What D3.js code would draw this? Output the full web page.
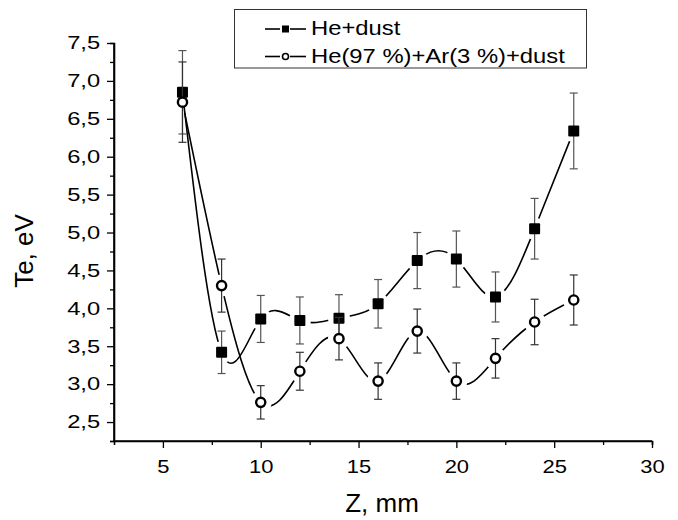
<!DOCTYPE html>
<html lang="en">
<head>
<meta charset="utf-8">
<title>Te vs Z</title>
<script src="https://d3js.org/d3.v7.min.js"></script>
<style>
  body { margin: 0; background: #fff; }
  text { font-family: "Liberation Sans", Arial, sans-serif; fill: #000; }
</style>
</head>
<body>
<script type="text/javascript">
var w = 678;
var h = 520;

// data
var zValues = [6, 8, 10, 12, 14, 16, 18, 20, 22, 24, 26];
var heDust = [6.85, 3.42, 3.86, 3.84, 3.87, 4.06, 4.63, 4.65, 4.15, 5.05, 6.34];
var heDustErr = [0.55, 0.28, 0.31, 0.31, 0.31, 0.32, 0.37, 0.37, 0.33, 0.40, 0.50];
var heArDust = [6.72, 4.30, 2.76, 3.17, 3.60, 3.04, 3.70, 3.04, 3.34, 3.82, 4.11];
var heArDustErr = [0.53, 0.35, 0.22, 0.25, 0.28, 0.24, 0.29, 0.24, 0.26, 0.30, 0.33];
var xTicks = [5, 10, 15, 20, 25, 30];
var yTicks = [2.5, 3.0, 3.5, 4.0, 4.5, 5.0, 5.5, 6.0, 6.5, 7.0, 7.5];
var seriesNames = ["He+dust", "He(97 %)+Ar(3 %)+dust"];

var svg = d3.select("body").append("svg").attr("width", w).attr("height", h);

var x = d3.scaleLinear().domain([2.5, 30]).range([114, 652]);
var y = d3.scaleLinear().domain([2.25, 7.5]).range([441, 43]);

var fmt = function (d) { return d3.format(".1f")(d).replace(".", ","); };

// minor ticks
var xMinor = d3.range(7.5, 30, 5);
var yMinor = d3.range(2.25, 7.5, 0.5);

var gx = svg.append("g").attr("transform", "translate(0,441)");
gx.call(d3.axisBottom(x).tickValues(xTicks).tickSize(7).tickPadding(12).tickFormat(d3.format("d")));
gx.append("g").call(d3.axisBottom(x).tickValues(xMinor).tickSize(4).tickFormat(""));

var gy = svg.append("g").attr("transform", "translate(114,0)");
gy.call(d3.axisLeft(y).tickValues(yTicks).tickSize(7).tickPadding(6).tickFormat(fmt));
gy.append("g").call(d3.axisLeft(y).tickValues(yMinor).tickSize(4).tickFormat(""));

svg.selectAll(".domain").attr("stroke", "#000").attr("stroke-width", 1.6);
svg.selectAll(".tick line").attr("stroke", "#000").attr("stroke-width", 1.3);
svg.selectAll(".tick text").style("font-size", "18px").style("font-family", "Liberation Sans, Arial, sans-serif");
// the tick labels in the picture are set wide
gx.selectAll(".tick text").attr("transform", "scale(1.22,1)");
gy.selectAll(".tick text").attr("x", -10.5).attr("transform", "scale(1.32,1)");
gx.select("g").select(".domain").remove();
gy.select("g").select(".domain").remove();
gx.select(".domain").attr("d", "M" + x(2.5) + ",0H" + x(30));
gy.select(".domain").attr("d", "M0," + y(2.25) + "V" + y(7.5));

// axis titles
svg.append("text").attr("x", 382).attr("y", 512).attr("text-anchor", "middle")
    .style("font-size", "26px").text("Z, mm");
svg.append("text").attr("transform", "translate(33,251) rotate(-90)").attr("text-anchor", "middle")
    .style("font-size", "26px").text("Te, eV");

var series = [
    { vals: heDust, err: heDustErr, sym: "square", ecol: "#555" },
    { vals: heArDust, err: heArDustErr, sym: "circle", ecol: "#333" }
];

var line = d3.line()
    .x(function (d) { return x(d[0]); })
    .y(function (d) { return y(d[1]); })
    .curve(d3.curveNatural);

var defs = svg.append("defs");

series.forEach(function (s, si) {
    var pts = zValues.map(function (z, i) { return [z, s.vals[i], s.err[i]]; });

    // mask to leave gaps round the markers
    var m = defs.append("mask").attr("id", "gap" + si).attr("maskUnits", "userSpaceOnUse")
        .attr("x", 0).attr("y", 0).attr("width", w).attr("height", h);
    m.append("rect").attr("width", w).attr("height", h).attr("fill", "#fff");
    m.selectAll("circle").data(pts).enter().append("circle")
        .attr("cx", function (d) { return x(d[0]); })
        .attr("cy", function (d) { return y(d[1]); })
        .attr("r", 11).attr("fill", "#000");

    svg.append("path").datum(pts).attr("d", line)
        .attr("fill", "none").attr("stroke", "#000").attr("stroke-width", 1.6)
        .attr("mask", "url(#gap" + si + ")");

    // error bars
    var eb = svg.append("g").attr("stroke", s.ecol).attr("stroke-width", 1.2);
    pts.forEach(function (d) {
        var cx = x(d[0]), top = y(d[1] + d[2]), bot = y(d[1] - d[2]);
        eb.append("line").attr("x1", cx).attr("x2", cx).attr("y1", top).attr("y2", bot);
        eb.append("line").attr("x1", cx - 4).attr("x2", cx + 4).attr("y1", top).attr("y2", top);
        eb.append("line").attr("x1", cx - 4).attr("x2", cx + 4).attr("y1", bot).attr("y2", bot);
    });

    // markers
    if (s.sym === "square") {
        svg.append("g").selectAll("rect").data(pts).enter().append("rect")
            .attr("x", function (d) { return x(d[0]) - 5.5; })
            .attr("y", function (d) { return y(d[1]) - 5.5; })
            .attr("width", 11).attr("height", 11).attr("rx", 1).attr("fill", "#000");
    } else {
        svg.append("g").selectAll("circle").data(pts).enter().append("circle")
            .attr("cx", function (d) { return x(d[0]); })
            .attr("cy", function (d) { return y(d[1]); })
            .attr("r", 4.6).attr("fill", "#fff").attr("stroke", "#000").attr("stroke-width", 2.4);
    }
});

// legend
var lg = svg.append("g");
lg.append("rect").attr("x", 234.5).attr("y", 9.5).attr("width", 352).attr("height", 58.5)
    .attr("fill", "#fff").attr("stroke", "#333").attr("stroke-width", 1);
seriesNames.forEach(function (name, i) {
    var cy = 29 + i * 27.5;
    lg.append("line").attr("x1", 265).attr("x2", 280).attr("y1", cy).attr("y2", cy)
        .attr("stroke", "#000").attr("stroke-width", 1.6);
    lg.append("line").attr("x1", 290).attr("x2", 306).attr("y1", cy).attr("y2", cy)
        .attr("stroke", "#000").attr("stroke-width", 1.6);
    if (i === 0) {
        lg.append("rect").attr("x", 282).attr("y", cy - 3.5).attr("width", 7).attr("height", 7).attr("fill", "#000");
    } else {
        lg.append("circle").attr("cx", 285.5).attr("cy", cy).attr("r", 3).attr("fill", "#fff")
            .attr("stroke", "#000").attr("stroke-width", 1.6);
    }
    lg.append("text").attr("transform", "translate(311," + (cy + 6) + ") scale(1.19,1)")
        .style("font-size", "20px").text(name);
});
</script>
</body>
</html>
